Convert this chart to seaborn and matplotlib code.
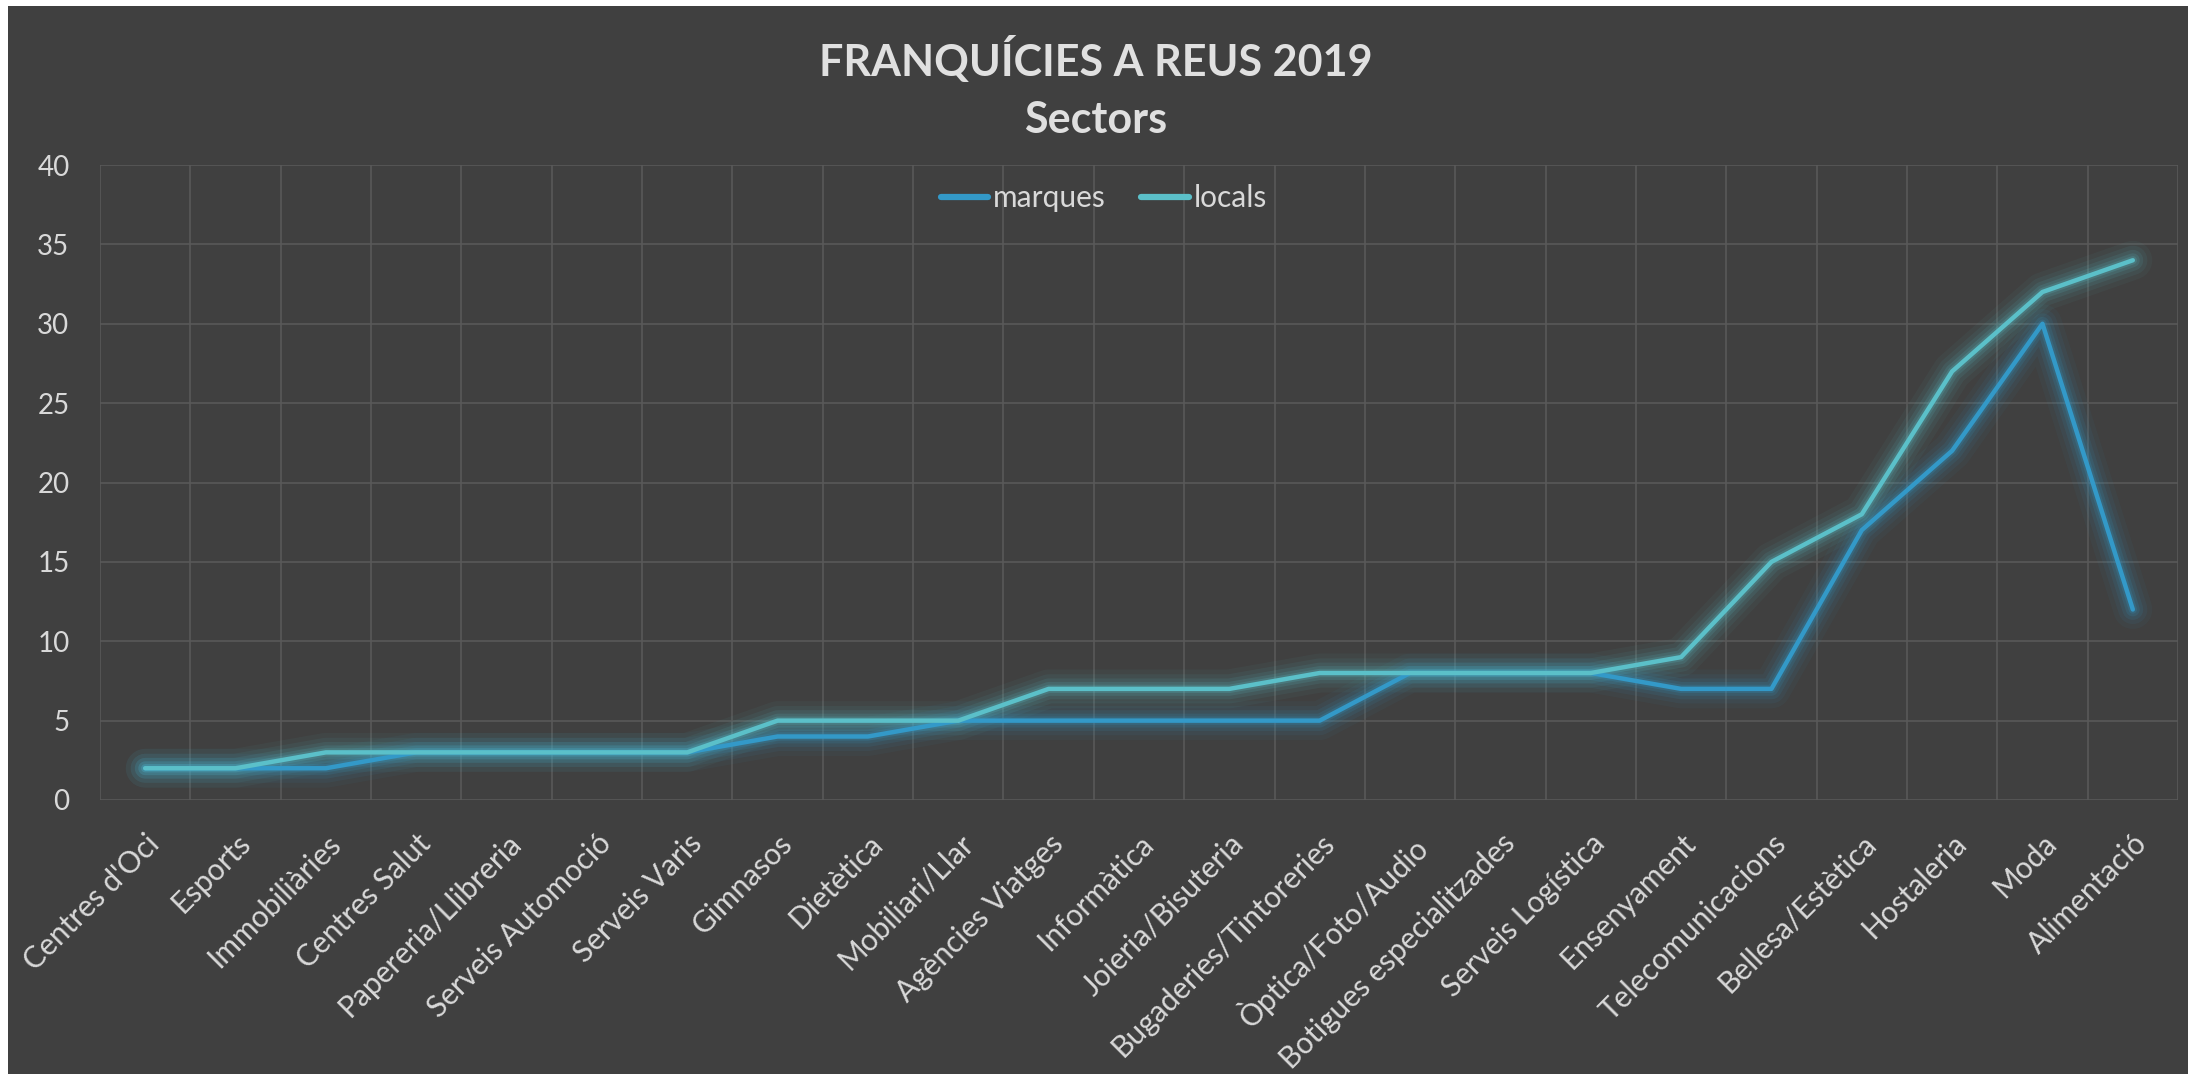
import numpy as np
import pandas as pd
import seaborn as sns
import matplotlib.pyplot as plt
from matplotlib.lines import Line2D
from matplotlib.patches import Rectangle
from matplotlib.transforms import ScaledTranslation

sectors = [
    "Centres d'Oci", "Esports", "Immobiliàries", "Centres Salut", "Papereria/Llibreria",
    "Serveis Automoció", "Serveis Varis", "Gimnasos", "Dietètica", "Mobiliari/Llar",
    "Agències Viatges", "Informàtica", "Joieria/Bisuteria", "Bugaderies/Tintoreries",
    "Òptica/Foto/Audio", "Botigues especialitzades", "Serveis Logística", "Ensenyament",
    "Telecomunicacions", "Bellesa/Estètica", "Hostaleria", "Moda", "Alimentació",
]
marques = [2, 2, 2, 3, 3, 3, 3, 4, 4, 5, 5, 5, 5, 5, 8, 8, 8, 7, 7, 17, 22, 30, 12]
locals_ = [2, 2, 3, 3, 3, 3, 3, 5, 5, 5, 7, 7, 7, 8, 8, 8, 8, 9, 15, 18, 27, 32, 34]
y_ticks = [0, 5, 10, 15, 20, 25, 30, 35, 40]

series_colors = {"marques": "#3399C8", "locals": "#5BC0C9"}
bg = "#404040"
text_col = "#D9D9D9"

df = pd.DataFrame({
    "pos": list(range(len(sectors))) * 2,
    "value": marques + locals_,
    "serie": ["marques"] * len(sectors) + ["locals"] * len(sectors),
})

sns.set_theme(style="dark")
plt.rcParams["font.family"] = ["Lato", "DejaVu Sans"]

fig = plt.figure(figsize=(21.92, 10.74), dpi=100, facecolor="white")
fig.patches.append(Rectangle((8 / 2192, 0), 2180 / 2192, 1 - 6 / 1074,
                             transform=fig.transFigure, facecolor=bg,
                             edgecolor="none", zorder=-10))
ax = fig.add_axes([100 / 2192, 1 - 800 / 1074, 2078 / 2192, 635 / 1074])
ax.set_facecolor(bg)

# soft glow under the lines
for lw, alpha in [(28, 0.05), (21, 0.07), (15, 0.10), (10, 0.14), (6, 0.2)]:
    sns.lineplot(data=df, x="pos", y="value", hue="serie", palette=series_colors,
                 sort=False, lw=lw, alpha=alpha, legend=False, ax=ax,
                 solid_capstyle="round", solid_joinstyle="round")
sns.lineplot(data=df, x="pos", y="value", hue="serie", palette=series_colors,
             sort=False, lw=3.2, legend=False, ax=ax,
             solid_capstyle="round", solid_joinstyle="round")

ax.set_xlim(-0.5, len(sectors) - 0.5)
ax.set_ylim(0, 40)
ax.set_yticks(y_ticks)
ax.set_xticks(range(len(sectors)))
ax.set_xticks(np.arange(-0.5, len(sectors), 1), minor=True)
ax.set_xticklabels(sectors, rotation=45, ha="right", va="top",
                   rotation_mode="anchor", color=text_col, fontsize=21.5)
shift = ScaledTranslation(5 / 100, 0, fig.dpi_scale_trans)
for lab in ax.get_xticklabels():
    lab.set_transform(lab.get_transform() + shift)
ax.tick_params(axis="y", labelsize=20, labelcolor=text_col, pad=22, length=0)
ax.tick_params(axis="x", which="both", length=0, pad=21)
ax.grid(False)
ax.grid(axis="y", which="major", color="#595959", lw=1.2)
ax.grid(axis="x", which="minor", color="#595959", lw=1.2)
for s in ax.spines.values():
    s.set_visible(False)
ax.set_xlabel("")
ax.set_ylabel("")

handles = [Line2D([], [], color=series_colors[k], lw=4.5) for k in ["marques", "locals"]]
ax.legend(handles, ["marques", "locals"], loc="upper center", bbox_to_anchor=(0.483, 1.012),
          ncol=2, frameon=False, fontsize=21.5, labelcolor=text_col,
          handlelength=1.6, handletextpad=0.15, columnspacing=1.2)

fig.text(0.5, 1 - 59 / 1074, "FRANQUÍCIES A REUS 2019", ha="center", va="center",
         fontsize=31, fontweight="bold", color="#E0E0E0")
fig.text(0.5, 1 - 120 / 1074, "Sectors", ha="center", va="center",
         fontsize=31, fontweight="bold", color="#E0E0E0")

fig.savefig("out.png", dpi=100, facecolor="white")
